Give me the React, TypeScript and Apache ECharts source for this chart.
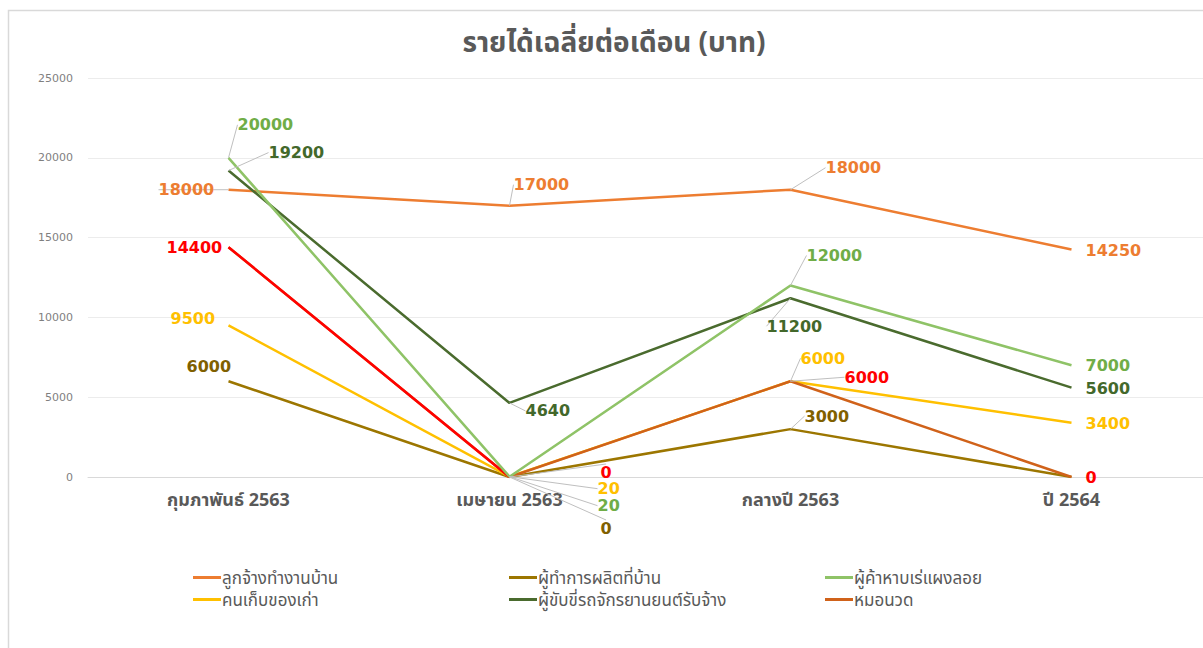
import React, { useEffect, useRef } from "react";
import * as echarts from "echarts";

const categories = ["กุมภาพันธ์ 2563", "เมษายน 2563", "กลางปี 2563", "ปี 2564"];
const housekeeper = [18000, 17000, 18000, 14250];
const homeProducer = [6000, 0, 3000, 0];
const streetVendor = [20000, 20, 12000, 7000];
const wastePicker = [9500, 20, 6000, 3400];
const motorbikeTaxi = [19200, 4640, 11200, 5600];
const masseur = [14400, 0, 6000, 0];
const yTicks = { min: 0, max: 25000, interval: 5000 };

const names = [
  "ลูกจ้างทำงานบ้าน",
  "ผู้ทำการผลิตที่บ้าน",
  "ผู้ค้าหาบเร่แผงลอย",
  "คนเก็บของเก่า",
  "ผู้ขับขี่รถจักรยานยนต์รับจ้าง",
  "หมอนวด",
];

// label offsets [dx, dy, leader, show]
type Off = [number, number, boolean, boolean];
const offHousekeeper: Off[] = [[-70, 0, true, true], [4, -21, true, true], [35, -22, true, true], [14, 1, false, true]];
const offProducer: Off[] = [[-42, -15, false, true], [91, 51, true, true], [14, -13, true, true], [14, 0, false, false]];
const offVendor: Off[] = [[9, -33, true, true], [88, 29, true, true], [16, -30, true, true], [14, 0, false, true]];
const offPicker: Off[] = [[-58, -7, false, true], [88, 12, true, true], [10, -23, true, true], [14, 1, false, true]];
const offTaxi: Off[] = [[40, -18, true, true], [16, 8, true, true], [-24, 28, true, true], [14, 1, false, true]];
const offMasseur: Off[] = [[-62, 0, false, true], [91, -5, true, true], [54, -4, true, true], [14, 0, false, true]];

const FONT = "'DejaVu Sans', 'Noto Sans', 'Noto Sans Thai', Tahoma, sans-serif";
const THAI = "'Noto Sans', 'Noto Sans Thai', 'Noto Sans Thai UI', Tahoma, 'DejaVu Sans', sans-serif";

function makeSeries(name: string, values: number[], color: string, labelColor: string, offs: Off[]) {
  return {
    name,
    type: "line",
    data: values.map((v, i) => ({
      value: v,
      label: { show: offs[i][3] },
      labelLine: { show: offs[i][2] },
    })),
    symbol: "circle",
    symbolSize: 0,
    lineStyle: { color, width: 2.5 },
    itemStyle: { color },
    label: {
      show: true,
      position: "right",
      distance: 0,
      color: labelColor,
      fontFamily: FONT,
      fontWeight: "bold",
      fontSize: 16,
      lineHeight: 16,
    },
    labelLine: { show: true, lineStyle: { color: "#bfbfbf", width: 1 } },
    labelLayout: (p: any) => ({ dx: offs[p.dataIndex][0], dy: offs[p.dataIndex][1] }),
    emphasis: { disabled: true },
  };
}

export default function App() {
  const ref = useRef<HTMLDivElement>(null);
  useEffect(() => {
    if (!ref.current) return;
    const chart = echarts.init(ref.current, undefined, { renderer: "svg" });
    const legendBase = {
      orient: "vertical",
      top: 563,
      itemWidth: 28,
      itemHeight: 3,
      itemGap: 3,
      icon: "rect",
      textStyle: { fontFamily: THAI, fontSize: 17, color: "#595959", lineHeight: 19, padding: [0, 0, 0, -4] },
      selectedMode: false,
    };
    chart.setOption({
      animation: false,
      backgroundColor: "#ffffff",
      title: {
        text: "รายได้เฉลี่ยต่อเดือน (บาท)",
        left: 609,
        textAlign: "center",
        top: 22,
        textStyle: { fontFamily: THAI, fontSize: 28, color: "#595959", fontWeight: "bold" },
      },
      graphic: [
        {
          type: "rect",
          shape: { x: 8.5, y: 10.5, width: 1300, height: 700 },
          style: { fill: "none", stroke: "#d9d9d9", lineWidth: 1.5 },
          silent: true,
        },
      ],
      legend: [
        { ...legendBase, left: 188, data: [names[0], names[3]] },
        { ...legendBase, left: 504, data: [names[1], names[4]] },
        { ...legendBase, left: 820, data: [names[2], names[5]] },
      ],
      grid: { left: 88, top: 78, width: 1124, height: 399 },
      xAxis: {
        type: "category",
        data: categories,
        boundaryGap: true,
        axisLine: { lineStyle: { color: "#d9d9d9", width: 1 } },
        axisTick: { show: false },
        axisLabel: { fontFamily: THAI, fontWeight: "bold", fontSize: 18, lineHeight: 20, color: "#595959", margin: 12 },
      },
      yAxis: {
        type: "value",
        min: yTicks.min,
        max: yTicks.max,
        interval: yTicks.interval,
        axisLine: { show: false },
        axisTick: { show: false },
        splitLine: { lineStyle: { color: "#ececec", width: 1 } },
        axisLabel: { fontFamily: FONT, fontSize: 11, color: "#7f7f7f", margin: 15, formatter: (v: number) => String(v) },
      },
      series: [
        makeSeries(names[0], housekeeper, "#ED7D31", "#ED7D31", offHousekeeper),
        makeSeries(names[1], homeProducer, "#9C7600", "#806000", offProducer),
        makeSeries(names[3], wastePicker, "#FFC000", "#FFC000", offPicker),
        makeSeries(names[5], masseur, "#D0621A", "#FF0000", offMasseur),
        {
          name: "หมอนวด-ก.พ.",
          type: "line",
          data: masseur.map((v, i) => (i <= 1 ? v : null)),
          symbol: "none",
          lineStyle: { color: "#FF0000", width: 2.5 },
          itemStyle: { color: "#FF0000" },
          label: { show: false },
          emphasis: { disabled: true },
        },
        makeSeries(names[4], motorbikeTaxi, "#4A6B2E", "#43682B", offTaxi),
        makeSeries(names[2], streetVendor, "#8FC367", "#70AD47", offVendor),
      ],
    });
    return () => chart.dispose();
  }, []);
  return (
    <div style={{ position: "absolute", left: 0, top: 0, width: 1203, height: 648, overflow: "hidden" }}>
      <div ref={ref} style={{ position: "absolute", left: 0, top: 0, width: 1216, height: 648 }} />
    </div>
  );
}
